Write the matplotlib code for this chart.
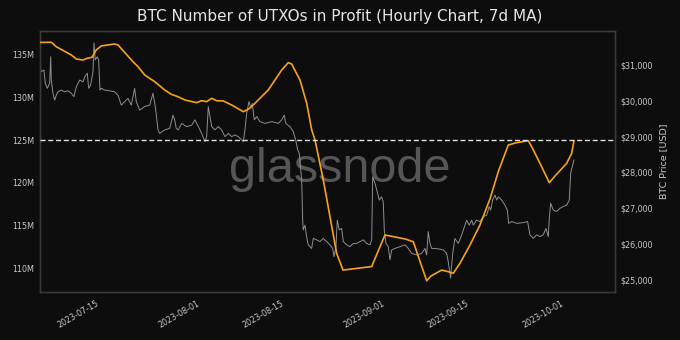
import matplotlib
matplotlib.use('Agg')
import matplotlib.pyplot as plt
import pandas as pd
from matplotlib.ticker import FuncFormatter, FixedLocator

# ---------------- data (days since 2023-07-01) ----------------
base_date = "2023-07-01"

utxo_days = [3.95, 5.84, 6.68, 9.19, 10.03, 11.15, 11.87, 12.66, 13.38, 14.22, 16.46, 17.02,
             19.53, 20.37, 21.49, 23.17, 24.84, 25.95, 27.07, 28.24, 30.20, 31.04, 31.88, 32.72,
             33.55, 34.66, 36.07, 38.01, 38.85, 39.97, 42.20, 44.45, 45.55, 46.12, 47.51, 48.64,
             49.48, 50.03, 51.42, 53.66, 54.72, 59.53, 60.92, 61.76, 65.16, 66.50, 68.74, 69.46,
             71.25, 72.36, 73.20, 74.32, 76.00, 77.67, 79.35, 80.74, 82.42, 83.82, 85.77, 86.34,
             87.73, 89.29, 90.24, 92.20, 93.04, 93.42]
utxo_millions = [136.47, 136.49, 135.97, 135.00, 134.53, 134.41, 134.61, 134.73, 135.59, 136.06,
                 136.29, 136.17, 134.21, 133.63, 132.66, 131.87, 130.90, 130.39, 130.11, 129.72,
                 129.41, 129.64, 129.53, 129.92, 129.64, 129.61, 129.14, 128.35, 128.63, 129.34,
                 130.90, 133.24, 134.10, 133.94, 132.07, 129.34, 126.21, 125.04, 120.35, 111.75,
                 109.79, 110.20, 112.53, 113.90, 113.43, 113.11, 108.54, 109.09, 109.79, 109.60,
                 109.41, 110.58, 112.73, 115.07, 118.12, 121.32, 124.45, 124.72, 124.95, 124.25,
                 122.30, 120.03, 120.81, 122.30, 123.48, 124.92]

price_days = [3.95, 4.16, 4.62, 4.83, 5.17, 5.57, 5.74, 5.84, 6.12, 6.41,
              6.68, 6.96, 7.52, 8.09, 8.64, 9.19, 9.64, 10.03, 10.60, 11.15,
              11.44, 11.87, 12.11, 12.44, 12.83, 13.00, 13.21, 13.55, 13.78, 14.00,
              14.22, 14.79, 15.63, 16.46, 17.02, 17.57, 18.14, 18.69, 19.24, 19.81,
              20.08, 20.65, 21.49, 22.33, 22.88, 23.27, 23.72, 24.00, 24.84, 25.68,
              26.23, 26.52, 26.78, 27.12, 27.69, 28.53, 29.37, 29.92, 30.47, 31.04,
              31.59, 31.88, 32.15, 32.43, 32.72, 33.27, 33.82, 34.39, 34.94, 35.50,
              36.07, 36.62, 37.17, 37.74, 38.01, 38.30, 38.58, 38.97, 39.30, 39.52,
              39.85, 40.26, 40.81, 41.65, 42.77, 43.88, 44.45, 44.88, 45.12, 45.84,
              46.39, 46.79, 47.13, 47.39, 47.80, 47.96, 48.06, 48.35, 48.63, 48.90,
              49.47, 49.74, 50.31, 50.86, 51.42, 51.99, 52.54, 52.99, 53.21, 53.55,
              53.76, 54.10, 54.50, 54.77, 55.34, 55.89, 56.44, 57.01, 57.57, 58.12,
              58.69, 59.24, 59.53, 59.70, 60.08, 60.46, 60.80, 61.20, 61.47, 61.64,
              61.92, 62.31, 62.59, 62.88, 63.43, 64.27, 65.11, 65.66, 66.23, 67.07,
              67.90, 68.46, 68.74, 69.01, 69.30, 69.58, 70.13, 70.97, 71.52, 72.09,
              72.36, 72.76, 73.10, 73.48, 74.04, 74.61, 75.16, 75.44, 75.88, 76.28,
              76.55, 77.12, 77.67, 78.23, 78.80, 79.23, 79.47, 79.80, 80.19, 80.47,
              80.74, 81.31, 81.86, 82.25, 82.48, 82.98, 83.82, 84.93, 85.66, 86.05,
              86.60, 87.17, 87.73, 88.28, 88.73, 89.12, 89.29, 89.52, 89.96, 90.52,
              91.08, 91.63, 92.20, 92.47, 92.64, 92.87, 93.21, 93.42]
price_usd = [30950, 30810, 30860, 30490, 30350, 30490, 31230, 30580, 30210, 30020,
             30160, 30250, 30300, 30250, 30280, 30210, 30120, 30390, 30580, 30530,
             30670, 30770, 30350, 30440, 30810, 31620, 31140, 31230, 31140, 30300,
             30350, 30300, 30280, 30250, 30160, 29880, 29980, 30070, 29880, 30350,
             29980, 29740, 29840, 29880, 30210, 29840, 29190, 29090, 29190, 29230,
             29600, 29470, 29230, 29190, 29370, 29280, 29320, 29470, 29280, 29090,
             28860, 29000, 29840, 29560, 29280, 29190, 29280, 29190, 29000, 29090,
             29000, 29050, 29000, 28910, 28860, 29190, 29650, 29980, 29790, 29930,
             29470, 29560, 29420, 29370, 29420, 29370, 29470, 29600, 29370, 29280,
             29140, 28910, 28630, 28540, 27790, 26670, 26400, 26530, 26210, 25980,
             25880, 26160, 26120, 26070, 26160, 26070, 25980, 25880, 25650, 25930,
             26670, 26400, 26440, 26070, 25980, 25930, 26020, 26020, 26070, 26120,
             26020, 25980, 26120, 27880, 27700, 27460, 27230, 27320, 27180, 26400,
             26020, 25930, 25560, 25840, 25880, 25930, 25980, 25880, 25740, 25700,
             25740, 25880, 25700, 26350, 26020, 25880, 25880, 25860, 25840, 25740,
             25510, 25050, 25740, 26160, 26020, 26260, 26530, 26670, 26530, 26670,
             26530, 26670, 26630, 26770, 26810, 27050, 26950, 27230, 27370, 27230,
             27320, 27230, 27090, 26950, 26580, 26630, 26580, 26600, 26630, 26260,
             26160, 26260, 26210, 26260, 26440, 26210, 26720, 27140, 26950, 26910,
             27000, 27050, 27090, 27180, 27230, 27980, 28210, 28350]

threshold_millions = 125
left_ticks = [110, 115, 120, 125, 130, 135]
right_ticks = [25000, 26000, 27000, 28000, 29000, 30000, 31000]
x_tick_labels = ["2023-07-15", "2023-08-01", "2023-08-15", "2023-09-01", "2023-09-15", "2023-10-01"]
title = "BTC Number of UTXOs in Profit (Hourly Chart, 7d MA)"
right_label = "BTC Price [USD]"
watermark = "glassnode"

# ---------------- style ----------------
BG = "#0d0d0d"
TXT = "#c8c8c8"
ORANGE = "#f7a21b"
GREY = "#8e8e8e"
SPINE = "#3a3a3a"

base = pd.Timestamp(base_date)
def to_dt(days):
    return base + pd.to_timedelta(pd.Series(days), unit="D")

fig = plt.figure(figsize=(6.8, 3.4), dpi=100, facecolor=BG)
ax_u = fig.add_axes([40 / 680, 1 - 292 / 340, 575 / 680, 261 / 340])
ax_p = ax_u.twinx()
ax_u.set_zorder(2)
ax_p.set_zorder(1)
ax_u.patch.set_visible(False)
ax_p.patch.set_visible(False)

fig.text(0.5, 1 - 182 / 340, watermark, ha="center", va="baseline", fontsize=35,
         color="#565656", family=["Liberation Sans", "DejaVu Sans"], zorder=0.5)

ax_p.plot(to_dt(price_days), price_usd, color=GREY, lw=0.7, zorder=2)
ax_u.plot(to_dt(utxo_days), utxo_millions, color=ORANGE, lw=1.2, zorder=3)
ax_u.axhline(threshold_millions, color="#e0e0e0", lw=1.0, ls=(0, (3.6, 2.0)), zorder=4)

ax_u.set_xlim(base + pd.Timedelta(days=3.95), base + pd.Timedelta(days=100.3))
ax_u.set_ylim(107.22, 137.81)
ax_p.set_ylim(24664, 31949)

ax_u.yaxis.set_major_locator(FixedLocator(left_ticks))
ax_u.yaxis.set_major_formatter(FuncFormatter(lambda v, p: f"{v:.0f}M"))
ax_p.yaxis.set_major_locator(FixedLocator(right_ticks))
ax_p.yaxis.set_major_formatter(FuncFormatter(lambda v, p: f"${v:,.0f}"))

ax_u.set_xticks(pd.to_datetime(x_tick_labels))
ax_u.set_xticklabels(x_tick_labels, rotation=30, ha="right")

for ax in (ax_u, ax_p):
    ax.tick_params(axis="both", length=0, pad=4, labelsize=5.8, colors=TXT)
    for s in ax.spines.values():
        s.set_color(SPINE)
        s.set_linewidth(1.0)
ax_u.tick_params(axis="x", pad=5)

ax_p.set_ylabel(right_label, color=TXT, fontsize=6.8, labelpad=4)
fig.text(0.5, 1 - 17 / 340, title, ha="center", va="center", fontsize=11, color="#e6e6e6")

fig.savefig("out.png", dpi=100, facecolor=BG)
